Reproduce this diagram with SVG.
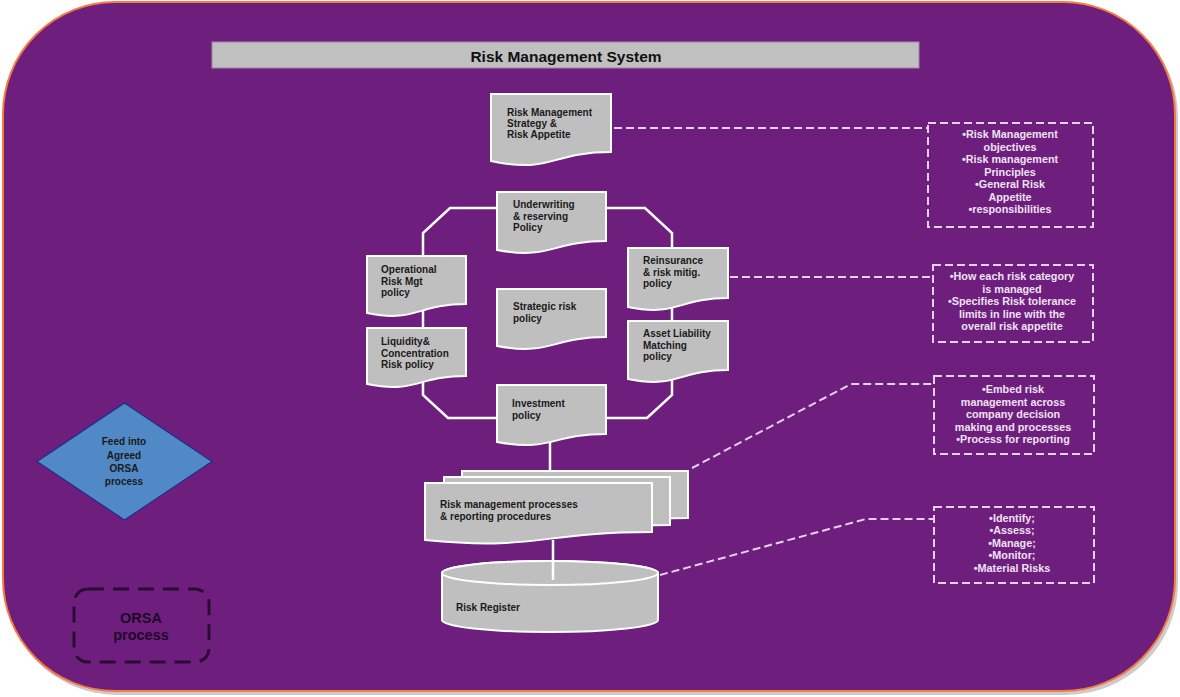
<svg xmlns="http://www.w3.org/2000/svg" width="1180" height="697" viewBox="0 0 1180 697">
<style>
.doc{fill:#BFBFBF;stroke:#FFFFFF;stroke-width:2}
.dt{font-family:"Liberation Sans",Arial,sans-serif;font-weight:bold;font-size:10px;fill:#1A1A1A}
.ln{fill:none;stroke:#FFFFFF;stroke-width:2.5}
.dl{fill:none;stroke:#E3D2EA;stroke-width:2;stroke-dasharray:8 4}
.bt{font-family:"Liberation Sans",Arial,sans-serif;font-weight:bold;font-size:10.8px;fill:#EEE2F2;text-anchor:middle}
</style>
<rect x="5" y="5" width="1173" height="690" rx="112" ry="112" fill="#9A9A9A" opacity="0.5"/>
<rect x="3" y="2" width="1172" height="689" rx="112" ry="112" fill="#6E1F7E" stroke="#F47B42" stroke-width="2"/>

<g id="title">
<rect x="212" y="42" width="707" height="26" fill="#C0C0C0" stroke="#9B8AA3" stroke-width="1"/>
<text x="566" y="62" font-family="Liberation Sans, Arial, sans-serif" font-weight="bold" font-size="15.5" fill="#111" text-anchor="middle">Risk Management System</text>
</g>

<g id="connectors">
<path class="ln" d="M497,208 H450 L423,233 V395 L448,418 H497"/>
<path class="ln" d="M606,208 H645 L672,233 V395 L647,418 H606"/>
<path class="ln" d="M550,442 V472"/>
<path class="ln" d="M553,540 V580"/>
<path class="dl" d="M614,128 H928"/>
<path class="dl" d="M730,277 H933"/>
<path class="dl" d="M692,468 L851,384 H934"/>
<path class="dl" d="M660,575 L866,519 H934"/>
</g>

<g id="rm-strategy">
<path class="doc" d="M491,94 H611 V152 C551,152 551,174 491,161 Z"/>
<text class="dt" x="507" y="116">Risk Management</text>
<text class="dt" x="507" y="127">Strategy &amp;</text>
<text class="dt" x="507" y="138">Risk Appetite</text>
</g>

<g id="underwriting">
<path class="doc" d="M497,192 H606 V241 C551.5,241 551.5,260 497,250 Z"/>
<text class="dt" x="513" y="208">Underwriting</text>
<text class="dt" x="513" y="219.5">&amp; reserving</text>
<text class="dt" x="513" y="231">Policy</text>
</g>

<g id="operational">
<path class="doc" d="M367,256 H466 V304 C416.5,304 416.5,323 367,313 Z"/>
<text class="dt" x="381" y="273">Operational</text>
<text class="dt" x="381" y="284.5">Risk Mgt</text>
<text class="dt" x="381" y="296">policy</text>
</g>

<g id="reinsurance">
<path class="doc" d="M628,248 H728 V298 C678,298 678,317 628,307 Z"/>
<text class="dt" x="643" y="264">Reinsurance</text>
<text class="dt" x="643" y="275.5">&amp; risk mitig.</text>
<text class="dt" x="643" y="287">policy</text>
</g>

<g id="strategic">
<path class="doc" d="M497,289 H606 V337 C551.5,337 551.5,356 497,346 Z"/>
<text class="dt" x="513" y="310">Strategic risk</text>
<text class="dt" x="513" y="321.5">policy</text>
</g>

<g id="liquidity">
<path class="doc" d="M367,328 H466 V376 C416.5,376 416.5,394 367,384 Z"/>
<text class="dt" x="381" y="345">Liquidity&amp;</text>
<text class="dt" x="381" y="356.5">Concentration</text>
<text class="dt" x="381" y="368">Risk policy</text>
</g>

<g id="asset-liability">
<path class="doc" d="M628,321 H728 V370 C678,370 678,389 628,379 Z"/>
<text class="dt" x="643" y="337">Asset Liability</text>
<text class="dt" x="643" y="348.5">Matching</text>
<text class="dt" x="643" y="360">policy</text>
</g>

<g id="investment">
<path class="doc" d="M497,385 H606 V434 C551.5,434 551.5,452 497,442 Z"/>
<text class="dt" x="512" y="407">Investment</text>
<text class="dt" x="512" y="418.5">policy</text>
</g>

<g id="processes">
<path class="doc" d="M462,471 H688 V518 C575,518 575,537 462,525 Z"/>
<path class="doc" d="M444,477 H670 V525 C557,525 557,544 444,533 Z"/>
<path class="doc" d="M425,483 H652 V532 C538.5,532 538.5,551 425,540 Z"/>
<text class="dt" x="440" y="508">Risk management processes</text>
<text class="dt" x="440" y="520">&amp; reporting procedures</text>
</g>

<g id="risk-register">
<path class="doc" d="M442,573 V620 A108,12 0 0 0 658,620 V573 A108,12 0 0 0 442,573 Z"/>
<ellipse cx="550" cy="573" rx="108" ry="12" fill="#BFBFBF" stroke="#FFFFFF" stroke-width="2"/>
<path class="ln" d="M553,561 V580"/>
<text class="dt" x="456" y="611">Risk Register</text>
</g>

<g id="box-objectives">
<rect class="dl" x="928" y="123" width="165" height="104"/>
<text class="bt" x="1010" y="138">•Risk Management</text>
<text class="bt" x="1010" y="150.5">objectives</text>
<text class="bt" x="1010" y="163">•Risk management</text>
<text class="bt" x="1010" y="175.5">Principles</text>
<text class="bt" x="1010" y="188">•General Risk</text>
<text class="bt" x="1010" y="200.5">Appetite</text>
<text class="bt" x="1010" y="213">•responsibilities</text>
</g>

<g id="box-categories">
<rect class="dl" x="933" y="265" width="160" height="77"/>
<text class="bt" x="1012" y="280">•How each risk category</text>
<text class="bt" x="1012" y="292.5">is managed</text>
<text class="bt" x="1012" y="305">•Specifies  Risk tolerance</text>
<text class="bt" x="1012" y="317.5">limits in line with the</text>
<text class="bt" x="1012" y="330">overall risk appetite</text>
</g>

<g id="box-embed">
<rect class="dl" x="934" y="376" width="160" height="78"/>
<text class="bt" x="1013" y="393">•Embed risk</text>
<text class="bt" x="1013" y="405.5">management across</text>
<text class="bt" x="1013" y="418">company decision</text>
<text class="bt" x="1013" y="430.5">making and processes</text>
<text class="bt" x="1013" y="443">•Process for reporting</text>
</g>

<g id="box-identify">
<rect class="dl" x="934" y="507" width="160" height="76"/>
<text class="bt" x="1012" y="522">•Identify;</text>
<text class="bt" x="1012" y="534">•Assess;</text>
<text class="bt" x="1012" y="546.5">•Manage;</text>
<text class="bt" x="1012" y="559">•Monitor;</text>
<text class="bt" x="1012" y="572">•Material  Risks</text>
</g>

<g id="feed-orsa">
<polygon points="124.5,403 212,461.5 124.5,520 37,461.5" fill="#5089C6" stroke="#1F2E8A" stroke-width="1.2"/>
<text class="dt" x="124" y="445" text-anchor="middle" fill="#222">Feed into</text>
<text class="dt" x="124" y="458.5" text-anchor="middle">Agreed</text>
<text class="dt" x="124" y="472" text-anchor="middle">ORSA</text>
<text class="dt" x="124" y="485" text-anchor="middle">process</text>
</g>

<g id="orsa-process">
<rect x="74" y="589" width="135" height="73" rx="14" ry="14" fill="none" stroke="#2A0C33" stroke-width="3" stroke-dasharray="16 9"/>
<text x="141" y="623" font-family="Liberation Sans, Arial, sans-serif" font-weight="bold" font-size="14.5" fill="#1E0826" text-anchor="middle">ORSA</text>
<text x="141" y="640" font-family="Liberation Sans, Arial, sans-serif" font-weight="bold" font-size="14.5" fill="#1E0826" text-anchor="middle">process</text>
</g>
</svg>
